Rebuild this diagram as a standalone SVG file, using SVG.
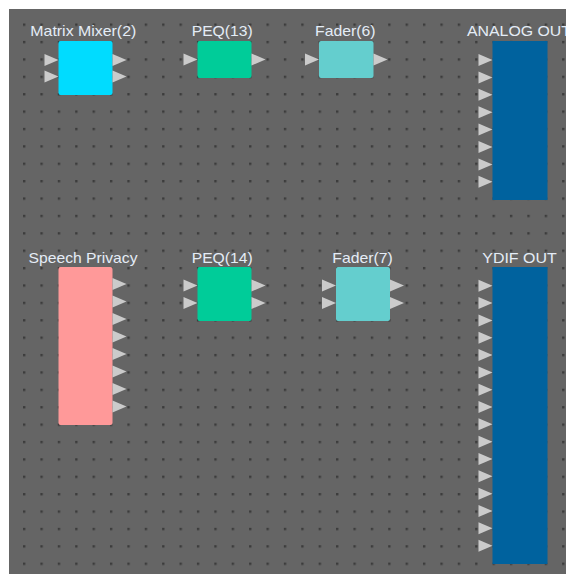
<svg xmlns="http://www.w3.org/2000/svg" xmlns:xlink="http://www.w3.org/1999/xlink" width="566" height="574" viewBox="0 0 566 574">
<style>
.lbl{font-family:"Liberation Sans",Arial,sans-serif;font-size:14.5px;fill:#e4ecf6;text-anchor:middle}
.port{fill:#cbcbcb}
.mix{fill:#00dcff}
.peq{fill:#00cc99}
.fad{fill:#64cece}
.out{fill:#00629e}
.sp{fill:#ff9999}
</style>
<defs>
<pattern id="grid" x="23" y="23.5" width="17.39" height="17.39" patternUnits="userSpaceOnUse">
<rect x="0" y="0" width="2.4" height="2.4" fill="#3c3c3c"/>
</pattern>
<path id="tri" d="M0,-6 L14,0 L0,6 Z"/>
</defs>
<rect x="0" y="0" width="566" height="574" fill="#ffffff"/>
<rect x="9" y="9" width="557" height="565" fill="#656565"/>
<rect x="9" y="9" width="557" height="565" fill="url(#grid)"/>
<g id="connectors"/>
<g id="matrix-mixer">
<rect class="mix" x="58.5" y="41" width="54" height="54" rx="2"/>
<use href="#tri" class="port" x="44.5" y="60"/>
<use href="#tri" class="port" x="44.5" y="76.5"/>
<use href="#tri" class="port" x="112.5" y="60"/>
<use href="#tri" class="port" x="112.5" y="76.5"/>
<text class="lbl" x="83.3" y="36" textLength="106" lengthAdjust="spacingAndGlyphs">Matrix Mixer(2)</text>
</g>
<g id="peq13">
<rect class="peq" x="197.5" y="41" width="54" height="37" rx="2"/>
<use href="#tri" class="port" x="183.5" y="59.5"/>
<use href="#tri" class="port" x="251.5" y="59.5"/>
<text class="lbl" x="222.2" y="36" textLength="61" lengthAdjust="spacingAndGlyphs">PEQ(13)</text>
</g>
<g id="fader6">
<rect class="fad" x="319" y="41" width="54.5" height="37" rx="2"/>
<use href="#tri" class="port" x="305" y="59.5"/>
<use href="#tri" class="port" x="373.5" y="59.5"/>
<text class="lbl" x="345.3" y="36" textLength="60.5" lengthAdjust="spacingAndGlyphs">Fader(6)</text>
</g>
<g id="analog-out">
<rect class="out" x="492.5" y="41" width="55" height="159"/>
<use href="#tri" class="port" x="478.5" y="60"/>
<use href="#tri" class="port" x="478.5" y="77.4"/>
<use href="#tri" class="port" x="478.5" y="94.8"/>
<use href="#tri" class="port" x="478.5" y="112.2"/>
<use href="#tri" class="port" x="478.5" y="129.6"/>
<use href="#tri" class="port" x="478.5" y="147"/>
<use href="#tri" class="port" x="478.5" y="164.4"/>
<use href="#tri" class="port" x="478.5" y="181.8"/>
<text class="lbl" x="519" y="36" textLength="104" lengthAdjust="spacingAndGlyphs">ANALOG OUT</text>
</g>
<g id="speech-privacy">
<rect class="sp" x="58.5" y="267" width="54" height="158" rx="2"/>
<use href="#tri" class="port" x="112.5" y="284"/>
<use href="#tri" class="port" x="112.5" y="301.5"/>
<use href="#tri" class="port" x="112.5" y="319"/>
<use href="#tri" class="port" x="112.5" y="336.5"/>
<use href="#tri" class="port" x="112.5" y="354"/>
<use href="#tri" class="port" x="112.5" y="371.5"/>
<use href="#tri" class="port" x="112.5" y="389"/>
<use href="#tri" class="port" x="112.5" y="406.5"/>
<text class="lbl" x="83" y="262.5" textLength="109" lengthAdjust="spacingAndGlyphs">Speech Privacy</text>
</g>
<g id="peq14">
<rect class="peq" x="197.5" y="267" width="54" height="54" rx="2"/>
<use href="#tri" class="port" x="183.5" y="285.5"/>
<use href="#tri" class="port" x="183.5" y="303"/>
<use href="#tri" class="port" x="251.5" y="285.5"/>
<use href="#tri" class="port" x="251.5" y="303"/>
<text class="lbl" x="222.2" y="262.5" textLength="61" lengthAdjust="spacingAndGlyphs">PEQ(14)</text>
</g>
<g id="fader7">
<rect class="fad" x="336" y="267" width="54" height="54" rx="2"/>
<use href="#tri" class="port" x="322" y="285.5"/>
<use href="#tri" class="port" x="322" y="303"/>
<use href="#tri" class="port" x="390" y="285.5"/>
<use href="#tri" class="port" x="390" y="303"/>
<text class="lbl" x="362.5" y="262.5" textLength="60.5" lengthAdjust="spacingAndGlyphs">Fader(7)</text>
</g>
<g id="ydif-out">
<rect class="out" x="492.5" y="267" width="55" height="297"/>
<use href="#tri" class="port" x="478.5" y="285.7"/>
<use href="#tri" class="port" x="478.5" y="303"/>
<use href="#tri" class="port" x="478.5" y="320.4"/>
<use href="#tri" class="port" x="478.5" y="337.7"/>
<use href="#tri" class="port" x="478.5" y="355"/>
<use href="#tri" class="port" x="478.5" y="372.4"/>
<use href="#tri" class="port" x="478.5" y="389.7"/>
<use href="#tri" class="port" x="478.5" y="407"/>
<use href="#tri" class="port" x="478.5" y="424.3"/>
<use href="#tri" class="port" x="478.5" y="441.7"/>
<use href="#tri" class="port" x="478.5" y="459"/>
<use href="#tri" class="port" x="478.5" y="476.3"/>
<use href="#tri" class="port" x="478.5" y="493.7"/>
<use href="#tri" class="port" x="478.5" y="511"/>
<use href="#tri" class="port" x="478.5" y="528.3"/>
<use href="#tri" class="port" x="478.5" y="545.7"/>
<text class="lbl" x="519.5" y="262.5" textLength="74.4" lengthAdjust="spacingAndGlyphs">YDIF OUT</text>
</g>
</svg>
